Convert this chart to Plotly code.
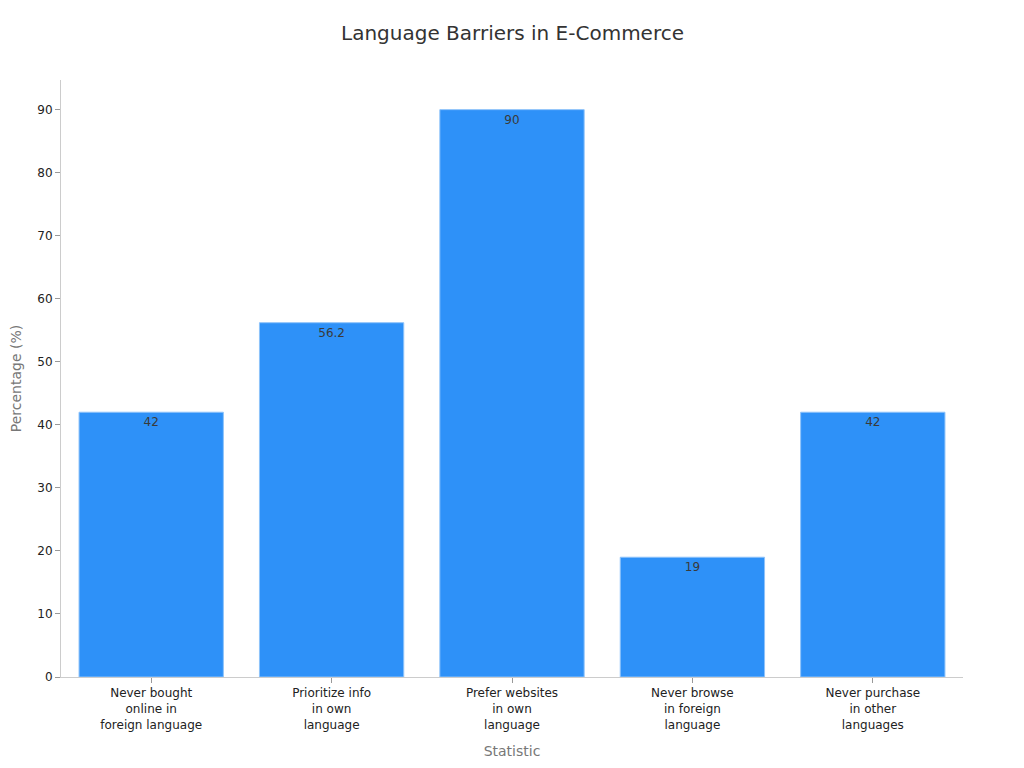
import plotly.graph_objects as go

categories = ["Never bought<br>online in<br>foreign language",
              "Prioritize info<br>in own<br>language",
              "Prefer websites<br>in own<br>language",
              "Never browse<br>in foreign<br>language",
              "Never purchase<br>in other<br>languages"]
values = [42, 56.2, 90, 19, 42]
y_ticks = [0, 10, 20, 30, 40, 50, 60, 70, 80, 90]

fig = go.Figure(go.Bar(
    x=categories, y=values,
    text=[str(v) for v in values],
    textposition="inside", insidetextanchor="end",
    textfont=dict(family="DejaVu Sans", size=12, color="#3a3a3a"),
    marker=dict(color="#2E91F8", line=dict(color="#8EC3FA", width=1)),
))

fig.update_layout(
    width=1024, height=768,
    paper_bgcolor="white", plot_bgcolor="white",
    font=dict(family="DejaVu Sans", size=12, color="#222222"),
    title=dict(text="Language Barriers in E-Commerce", x=0.4927, xanchor="center",
               y=0.967, yanchor="middle",
               font=dict(size=20, color="#333333")),
    margin=dict(l=53, r=69, t=72, b=99),
    bargap=0.2,
    showlegend=False,
    xaxis=dict(title=dict(text="Statistic", font=dict(size=14, color="#777777"), standoff=15),
               showline=True, linecolor="#CCCCCC", linewidth=1,
               ticks="outside", ticklen=5, tickcolor="#999999",
               tickfont=dict(size=12, color="#222222")),
    yaxis=dict(title=dict(text="Percentage (%)", font=dict(size=14, color="#777777"), standoff=16),
               automargin=False,
               range=[0, 94.7], tickvals=y_ticks,
               showline=True, linecolor="#CCCCCC", linewidth=1,
               showgrid=False, zeroline=False,
               ticks="outside", ticklen=5, tickcolor="#999999",
               tickfont=dict(size=12, color="#222222")),
)

fig.write_html("out.html")
